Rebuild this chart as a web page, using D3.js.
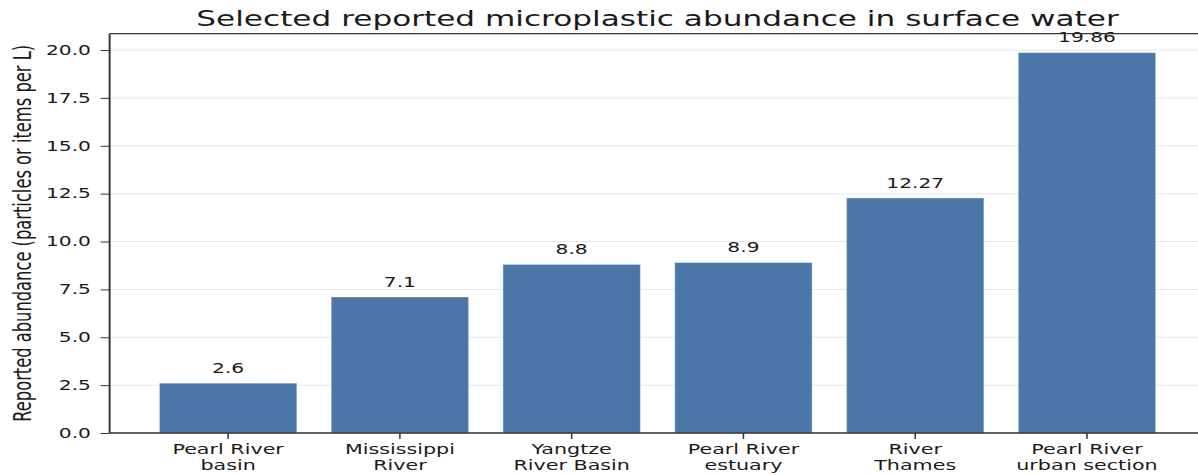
<!DOCTYPE html>
<html>
<head>
<meta charset="utf-8">
<script src="https://cdn.jsdelivr.net/npm/d3@7"></script>
<style>
  html, body { margin: 0; padding: 0; background: #fff; }
  svg { display: block; }
  text { font-family: "DejaVu Sans", sans-serif; fill: #1a1a1a; }
</style>
</head>
<body>
<div id="chart"></div>
<script>
// Data
const categories = ["Pearl River\nbasin", "Mississippi\nRiver", "Yangtze\nRiver Basin",
                    "Pearl River\nestuary", "River\nThames", "Pearl River\nurban section"];
const abundance = [2.6, 7.1, 8.8, 8.9, 12.27, 19.86];
const yTicks = [0, 2.5, 5, 7.5, 10, 12.5, 15, 17.5, 20];

const titleText = "Selected reported microplastic abundance in surface water";
const yLabelText = "Reported abundance (particles or items per L)";

// The reference is a horizontally stretched figure: draw in an 800 wide
// coordinate system and stretch it to the 1198 px window.
const W = 800, H = 475;
const margin = {left: 73.2, right: -5, top: 33.7, bottom: 42};

const svg = d3.select("#chart").append("svg")
    .attr("width", 1198)
    .attr("height", 475)
    .attr("viewBox", `0 0 ${W} ${H}`)
    .attr("preserveAspectRatio", "none");

const x = d3.scaleBand()
    .domain(d3.range(categories.length))
    .range([margin.left, W - margin.right])
    .paddingInner(0.2)
    .paddingOuter(0.29);

const yMax = d3.max(abundance) * 1.05;
const y = d3.scaleLinear()
    .domain([0, yMax])
    .range([H - margin.bottom, margin.top]);

// Grid lines
svg.append("g")
    .selectAll("line")
    .data(yTicks)
    .enter().append("line")
    .attr("x1", margin.left)
    .attr("x2", W - margin.right)
    .attr("y1", d => y(d))
    .attr("y2", d => y(d))
    .style("stroke", "#e8e8e8")
    .style("stroke-width", 1);

// Bars
svg.append("g")
    .selectAll("rect")
    .data(abundance)
    .enter().append("rect")
    .attr("x", (d, i) => x(i))
    .attr("width", x.bandwidth())
    .attr("y", d => y(d))
    .attr("height", d => y(0) - y(d))
    .style("fill", "#4a77a8")
    .style("stroke", "#ffffff")
    .style("stroke-opacity", 0.35)
    .style("stroke-width", 0.8);

// Value labels
svg.append("g")
    .selectAll("text")
    .data(abundance)
    .enter().append("text")
    .attr("x", (d, i) => x(i) + x.bandwidth() / 2)
    .attr("y", d => y(d) - 10.5)
    .attr("text-anchor", "middle")
    .style("font-size", "13.5px")
    .text(d => String(d));

// Y axis
const yAxis = svg.append("g")
    .attr("transform", `translate(${margin.left},0)`)
    .call(d3.axisLeft(y).tickValues(yTicks).tickFormat(d3.format(".1f"))
        .tickSize(6).tickPadding(6.5));
yAxis.select(".domain").remove();
yAxis.selectAll("line").style("stroke", "#333").style("stroke-width", 1);
yAxis.selectAll("text").style("font-size", "13.5px").style("fill", "#1a1a1a");

// X axis
const xAxis = svg.append("g")
    .attr("transform", `translate(0,${y(0)})`)
    .call(d3.axisBottom(x).tickSize(6).tickPadding(3).tickFormat(() => ""));
xAxis.select(".domain").remove();
xAxis.selectAll("line").style("stroke", "#333").style("stroke-width", 1);
xAxis.selectAll(".tick text")
    .style("font-size", "13.8px")
    .style("fill", "#1a1a1a")
    .attr("y", 21.5)
    .attr("dy", null)
    .each(function(d) {
        const lines = categories[d].split("\n");
        d3.select(this).selectAll("tspan")
            .data(lines)
            .enter().append("tspan")
            .attr("x", 0)
            .attr("dy", (l, j) => j === 0 ? 0 : 15.5)
            .text(l => l);
    });

// Spines: left, top, bottom (right one falls outside the window)
const spine = svg.append("g")
    .style("stroke", "#333")
    .style("stroke-width", 1.3)
    .style("fill", "none");
spine.append("line")
    .attr("x1", margin.left).attr("x2", margin.left)
    .attr("y1", y(yMax)).attr("y2", y(0));
spine.append("line")
    .attr("x1", margin.left).attr("x2", W - margin.right)
    .attr("y1", y(0)).attr("y2", y(0));
spine.append("line")
    .attr("x1", margin.left).attr("x2", W - margin.right)
    .attr("y1", y(yMax)).attr("y2", y(yMax));

// Title
svg.append("text")
    .attr("x", (margin.left + W - margin.right) / 2)
    .attr("y", 26)
    .attr("text-anchor", "middle")
    .style("font-size", "20.8px")
    .text(titleText);

// Y label
svg.append("text")
    .attr("transform", `translate(21,${(y(0) + y(yMax)) / 2}) rotate(-90)`)
    .attr("text-anchor", "middle")
    .style("font-size", "16.3px")
    .text(yLabelText);
</script>
</body>
</html>
